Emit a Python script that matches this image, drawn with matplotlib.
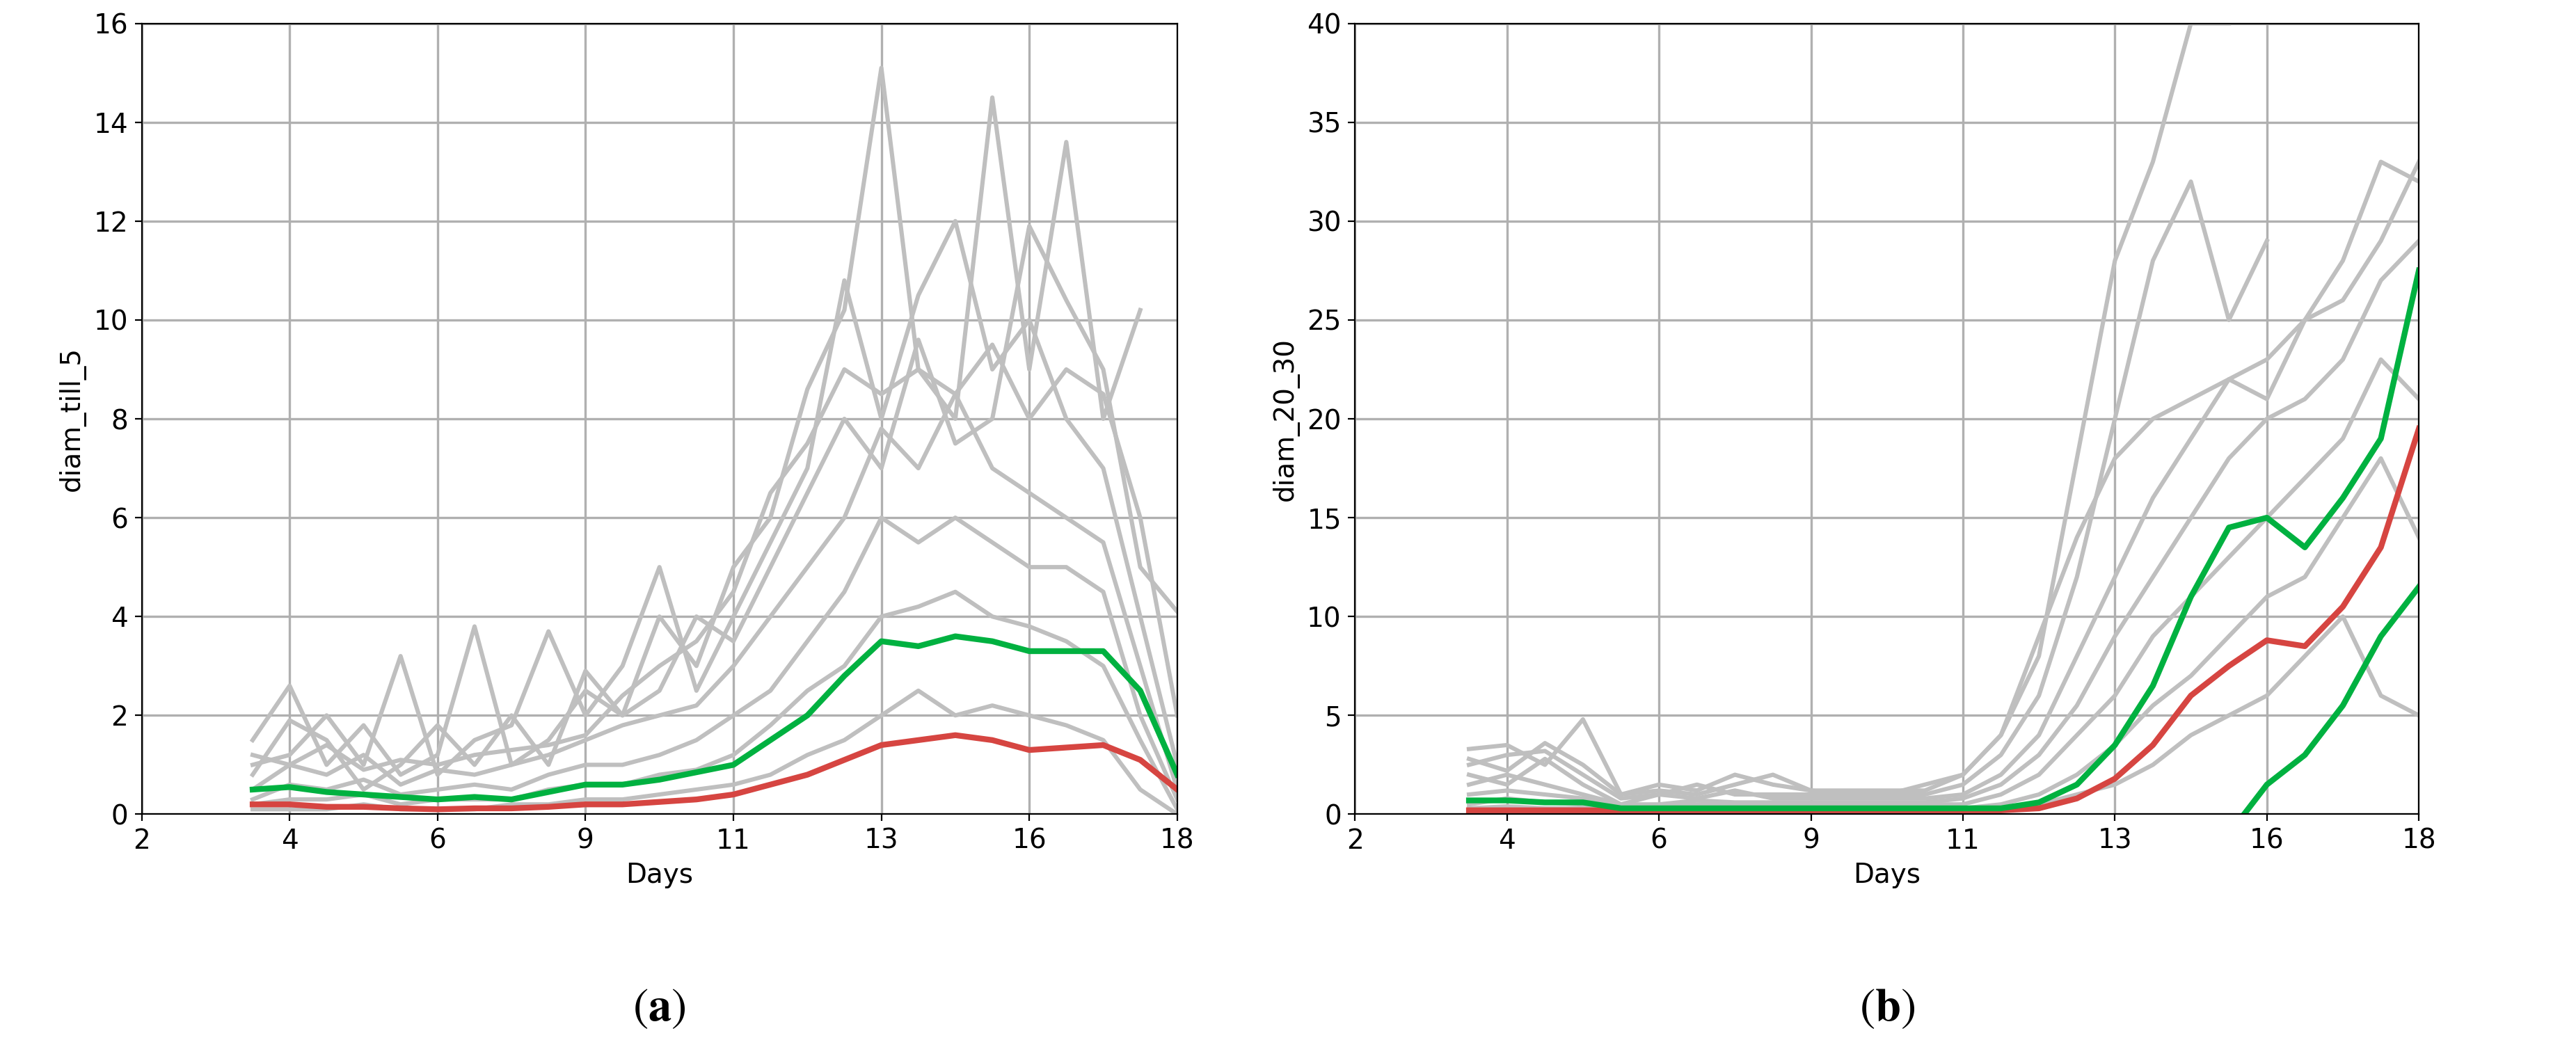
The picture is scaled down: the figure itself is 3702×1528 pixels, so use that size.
import numpy as np
import matplotlib.pyplot as plt

plt.rcParams['mathtext.fontset'] = 'stix'
nan = np.nan
# x positions (evenly spaced tick slots) and the day labels shown
pos = np.arange(0.75, 7.01, 0.25)
tick_pos = [0, 1, 2, 3, 4, 5, 6, 7]
tick_lab = ["2", "4", "6", "9", "11", "13", "16", "18"]

# panel (a): diam_till_5
green_a = [0.5, 0.55, 0.45, 0.4, 0.35, 0.3, 0.35, 0.3, 0.45, 0.6, 0.6, 0.7, 0.85,
           1.0, 1.5, 2.0, 2.8, 3.5, 3.4, 3.6, 3.5, 3.3, 3.3, 3.3, 2.5, 0.8]
red_a = [0.2, 0.2, 0.15, 0.15, 0.12, 0.1, 0.12, 0.12, 0.15, 0.2, 0.2, 0.25, 0.3,
         0.4, 0.6, 0.8, 1.1, 1.4, 1.5, 1.6, 1.5, 1.3, 1.35, 1.4, 1.1, 0.5]
gray_a = [
    [1.5, 2.6, 1.0, 1.8, 0.8, 1.2, 3.8, 1.0, 1.5, 2.5, 2.0, 4.0, 3.0, 5.0, 6.0, 8.6, 10.2, 15.1, 9.0, 8.0, 14.5, 9.0, 13.6, 8.0, 10.2, nan],
    [1.0, 1.2, 2.0, 1.0, 3.2, 0.8, 1.5, 1.8, 3.7, 2.0, 3.0, 5.0, 2.5, 4.0, 5.5, 7.0, 10.8, 8.0, 10.5, 12.0, 9.0, 10.0, 8.0, 7.0, 4.0, 1.0],
    [0.8, 1.9, 1.5, 0.5, 1.0, 1.8, 1.0, 2.0, 1.0, 2.9, 2.0, 2.5, 4.0, 3.5, 5.0, 6.5, 8.0, 7.0, 9.6, 7.5, 8.0, 11.9, 10.4, 9.0, 5.0, 4.1],
    [0.5, 1.0, 0.8, 1.2, 0.6, 0.9, 0.8, 1.0, 1.2, 1.5, 1.8, 2.0, 2.2, 3.0, 4.0, 5.0, 6.0, 7.8, 7.0, 8.5, 7.0, 6.5, 6.0, 5.5, 3.0, 0.5],
    [0.3, 0.6, 0.5, 0.7, 0.4, 0.5, 0.6, 0.5, 0.8, 1.0, 1.0, 1.2, 1.5, 2.0, 2.5, 3.5, 4.5, 6.0, 5.5, 6.0, 5.5, 5.0, 5.0, 4.5, 2.0, 0.3],
    [0.2, 0.3, 0.3, 0.4, 0.2, 0.3, 0.3, 0.3, 0.5, 0.6, 0.6, 0.8, 0.9, 1.2, 1.8, 2.5, 3.0, 4.0, 4.2, 4.5, 4.0, 3.8, 3.5, 3.0, 1.5, 0.1],
    [0.1, 0.1, 0.1, 0.2, 0.1, 0.1, 0.1, 0.2, 0.2, 0.3, 0.3, 0.4, 0.5, 0.6, 0.8, 1.2, 1.5, 2.0, 2.5, 2.0, 2.2, 2.0, 1.8, 1.5, 0.5, 0.0],
    [1.2, 1.0, 1.4, 0.9, 1.1, 1.0, 1.2, 1.3, 1.4, 1.6, 2.4, 3.0, 3.5, 4.5, 6.5, 7.5, 9.0, 8.5, 9.0, 8.5, 9.5, 8.0, 9.0, 8.5, 6.0, 2.0],
]

# panel (b): diam_20_30
green_b = [0.7, 0.7, 0.6, 0.6, 0.3, 0.3, 0.3, 0.3, 0.3, 0.3, 0.3, 0.3, 0.3,
           0.3, 0.3, 0.6, 1.5, 3.5, 6.5, 11.0, 14.5, 15.0, 13.5, 16.0, 19.0, 27.5]
red_b = [0.2] * 14 + [0.2, 0.3, 0.8, 1.8, 3.5, 6.0, 7.5, 8.8, 8.5, 10.5, 13.5, 19.5]
green_b_low = [nan] * 20 + [-1.0, 1.5, 3.0, 5.5, 9.0, 11.5]
gray_b = [
    [3.3, 3.5, 2.5, 4.8, 1.0, 1.5, 1.2, 2.0, 1.5, 1.2, 1.0, 1.0, 1.5, 2.0, 4.0, 8.0, 18.0, 28.0, 33.0, 40.0, 40.0, nan, nan, nan, nan, nan],
    [2.5, 3.0, 3.2, 2.0, 0.8, 1.0, 1.5, 1.0, 1.0, 1.0, 1.0, 1.0, 1.0, 1.5, 3.0, 6.0, 12.0, 20.0, 28.0, 32.0, 25.0, 29.0, nan, nan, nan, nan],
    [2.0, 1.5, 2.8, 1.5, 0.5, 1.0, 0.8, 1.2, 0.8, 0.8, 0.8, 0.8, 0.8, 1.0, 2.0, 4.0, 8.0, 12.0, 16.0, 19.0, 22.0, 21.0, 25.0, 28.0, 33.0, 32.0],
    [1.5, 2.0, 1.5, 1.0, 0.5, 0.5, 0.7, 0.6, 0.6, 0.6, 0.6, 0.6, 0.6, 0.8, 1.5, 3.0, 5.5, 9.0, 12.0, 15.0, 18.0, 20.0, 21.0, 23.0, 27.0, 29.0],
    [1.0, 1.2, 1.0, 0.8, 0.3, 0.4, 0.5, 0.5, 0.5, 0.5, 0.5, 0.5, 0.5, 0.5, 1.0, 2.0, 4.0, 6.0, 9.0, 11.0, 13.0, 15.0, 17.0, 19.0, 23.0, 21.0],
    [0.5, 0.8, 0.6, 0.5, 0.2, 0.3, 0.3, 0.3, 0.3, 0.3, 0.3, 0.3, 0.3, 0.3, 0.5, 1.0, 2.0, 3.5, 5.5, 7.0, 9.0, 11.0, 12.0, 15.0, 18.0, 14.0],
    [0.3, 0.4, 0.3, 0.3, 0.1, 0.2, 0.2, 0.2, 0.2, 0.2, 0.2, 0.2, 0.2, 0.2, 0.2, 0.5, 1.0, 1.5, 2.5, 4.0, 5.0, 6.0, 8.0, 10.0, 6.0, 5.0],
    [2.8, 2.2, 3.6, 2.5, 1.0, 1.2, 1.0, 1.5, 2.0, 1.2, 1.2, 1.2, 1.2, 2.0, 4.0, 9.0, 14.0, 18.0, 20.0, 21.0, 22.0, 23.0, 25.0, 26.0, 29.0, 33.0],
]

gray_c = "#bfbfbf"
green_c = "#00b140"
red_c = "#d64541"

fig = plt.figure(figsize=(18.51, 7.64), dpi=200)
ax1 = fig.add_axes([0.055, 0.234, 0.402, 0.744])
ax2 = fig.add_axes([0.526, 0.234, 0.413, 0.744])

panels = [
    (ax1, gray_a, [green_a], red_a, 16, 2, "diam_till_5", "(a)"),
    (ax2, gray_b, [green_b, green_b_low], red_b, 40, 5, "diam_20_30", "(b)"),
]
for ax, grays, greens, red, ymax, ystep, ylab, tag in panels:
    for g in grays:
        ax.plot(pos, g, color=gray_c, lw=2.2)
    ax.plot(pos, red, color=red_c, lw=3)
    for g in greens:
        ax.plot(pos, g, color=green_c, lw=3)
    ax.set_xlim(0, 7)
    ax.set_ylim(0, ymax)
    ax.set_xticks(tick_pos)
    ax.set_xticklabels(tick_lab)
    ax.set_yticks(np.arange(0, ymax + 0.1, ystep))
    ax.grid(True, color="#b0b0b0", lw=1.2)
    ax.set_axisbelow(True)
    ax.tick_params(labelsize=14)
    ax.set_xlabel("Days", fontsize=14)
    ax.set_ylabel(ylab, fontsize=14)
    box = ax.get_position()
    fig.text((box.x0 + box.x1) / 2, 0.05, r"($\mathbf{" + tag[1] + "}$)",
             ha="center", va="center", fontsize=24, family="STIXGeneral")

fig.savefig("out.png")
